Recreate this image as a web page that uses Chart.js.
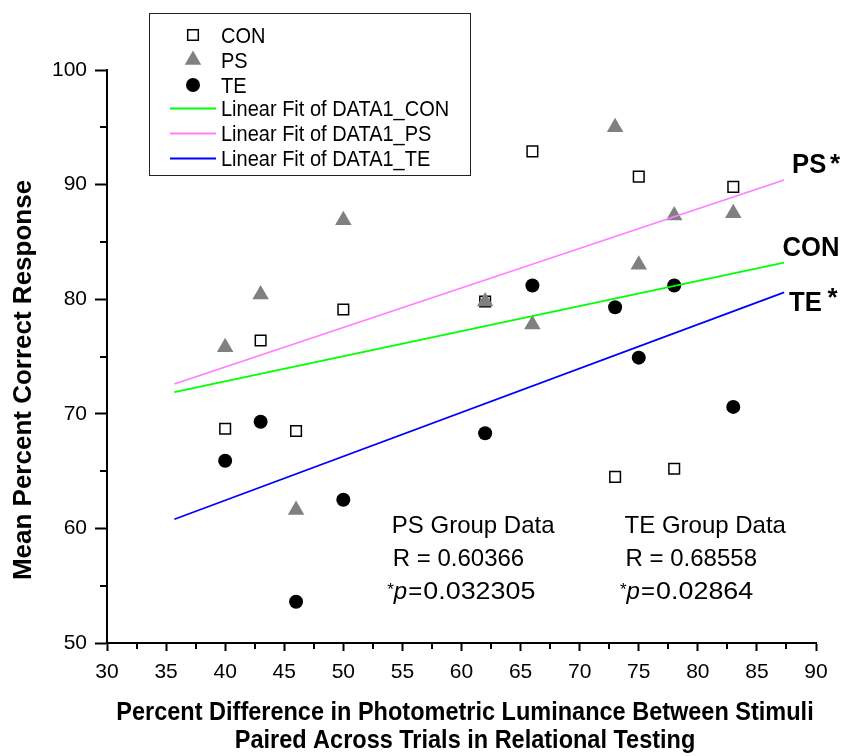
<!DOCTYPE html>
<html>
<head>
<meta charset="utf-8">
<script src="https://cdn.jsdelivr.net/npm/chart.js@4/dist/chart.umd.min.js"></script>
<style>
  html, body { margin: 0; padding: 0; background: #ffffff; }
  #wrap { width: 843px; height: 756px; position: relative; }
</style>
</head>
<body>
<div id="wrap"><canvas id="chart" width="843" height="756"></canvas></div>
<script>
// Percent luminance difference of each stimulus pair
const luminanceDiff = [40, 43, 46, 50, 62, 66, 73, 75, 78, 83];

// Mean percent correct response per group
const conScores = [68.7, 76.4, 68.5, 79.1, 79.8, 92.9, 64.5, 90.7, 65.2, 89.8];
const psScores  = [75.8, 80.4, 61.6, 86.9, 79.8, 77.8, 95.0, 83.0, 87.3, 87.5];
const teScores  = [65.9, 69.3, 53.6, 62.5, 68.3, 81.2, 79.3, 74.9, 81.2, 70.6];

// Linear fit lines: x extent and fitted y at each end
const fitRange = [35.7, 87.3];
const conFit = [71.9, 83.2];
const psFit  = [72.6, 90.4];
const teFit  = [60.8, 80.6];

// Axis ticks
const xTickValues = [30, 35, 40, 45, 50, 55, 60, 65, 70, 75, 80, 85, 90];
const yTickValues = [50, 60, 70, 80, 90, 100];

// Statistics text
const psStats = { title: 'PS Group Data', r: 'R = 0.60366', p: '0.032305' };
const teStats = { title: 'TE Group Data', r: 'R = 0.68558', p: '0.02864' };

const FONT = '"Liberation Sans", Arial, Helvetica, sans-serif';

const points = ys => luminanceDiff.map((x, i) => ({ x: x, y: ys[i] }));
const fitLine = ys => fitRange.map((x, i) => ({ x: x, y: ys[i] }));

function text(ctx, s, x, y, font, o) {
  o = o || {};
  ctx.save();
  ctx.font = font;
  ctx.fillStyle = o.color || '#000';
  ctx.textAlign = o.align || 'left';
  ctx.textBaseline = o.baseline || 'alphabetic';
  ctx.translate(x, y);
  if (o.rotate) ctx.rotate(o.rotate);
  if (o.sx) ctx.scale(o.sx, 1);
  ctx.fillText(s, 0, 0);
  const w = ctx.measureText(s).width * (o.sx || 1);
  ctx.restore();
  return w;
}

// Short minor ticks halfway between the labelled ones
const minorTicks = {
  id: 'minorTicks',
  afterDraw(chart) {
    const ctx = chart.ctx, xs = chart.scales.x, ys = chart.scales.y;
    const a = chart.chartArea;
    ctx.save();
    ctx.strokeStyle = '#000';
    ctx.lineWidth = 2;
    ctx.beginPath();
    for (let i = 0; i < xTickValues.length - 1; i++) {
      const px = Math.round(xs.getPixelForValue((xTickValues[i] + xTickValues[i + 1]) / 2));
      ctx.moveTo(px, a.bottom);
      ctx.lineTo(px, a.bottom + 6);
    }
    for (let i = 0; i < yTickValues.length - 1; i++) {
      const py = Math.round(ys.getPixelForValue((yTickValues[i] + yTickValues[i + 1]) / 2));
      ctx.moveTo(a.left, py);
      ctx.lineTo(a.left - 7, py);
    }
    ctx.stroke();
    ctx.restore();
  }
};

// Axis titles, legend box, group labels and statistics
const annotations = {
  id: 'annotations',
  afterDraw(chart) {
    const ctx = chart.ctx, xs = chart.scales.x, ys = chart.scales.y;
    const ds = chart.data.datasets;

    // axis titles
    text(ctx, 'Mean Percent Correct Response', 31, 380, 'bold 26px ' + FONT,
      { align: 'center', rotate: -Math.PI / 2 });
    text(ctx, 'Percent Difference in Photometric Luminance Between Stimuli', 465, 720,
      'bold 25px ' + FONT, { align: 'center', sx: 0.94 });
    text(ctx, 'Paired Across Trials in Relational Testing', 465, 748,
      'bold 25px ' + FONT, { align: 'center', sx: 0.94 });

    // legend
    ctx.save();
    ctx.strokeStyle = '#222';
    ctx.lineWidth = 1;
    ctx.strokeRect(149.5, 13.5, 321, 162);
    ctx.restore();
    const rows = [35, 60, 85, 108.5, 133.5, 158.5];
    ds.forEach((d, r) => {
      const y = rows[r];
      if (d.showLine) {
        ctx.save();
        ctx.strokeStyle = d.borderColor;
        ctx.lineWidth = d.borderWidth;
        ctx.beginPath();
        ctx.moveTo(170, y);
        ctx.lineTo(216, y);
        ctx.stroke();
        ctx.restore();
      } else {
        ctx.save();
        ctx.fillStyle = d.backgroundColor;
        ctx.strokeStyle = d.borderColor;
        ctx.lineWidth = d.borderWidth;
        Chart.helpers.drawPoint(ctx, {
          pointStyle: d.pointStyle, radius: d.pointRadius, borderWidth: d.borderWidth, rotation: 0
        }, 193, y);
        ctx.restore();
      }
      text(ctx, d.label, 221, y + 7.5, '21.5px ' + FONT, { sx: 0.93 });
    });

    // group labels at the right end of each fit line
    const xEnd = xs.getPixelForValue(fitRange[1]);
    const bold = 'bold 27px ' + FONT;
    const star = 'bold 26px ' + FONT;
    text(ctx, 'PS', xEnd + 8, ys.getPixelForValue(psFit[1]) - 7, bold, { sx: 0.95 });
    text(ctx, '*', xEnd + 51, ys.getPixelForValue(psFit[1]) - 8.5, star, { align: 'center' });
    text(ctx, 'CON', xEnd - 1.5, ys.getPixelForValue(conFit[1]) - 6.5, bold, { sx: 0.95 });
    text(ctx, 'TE', xEnd + 5, ys.getPixelForValue(teFit[1]) + 19, bold, { sx: 0.95 });
    text(ctx, '*', xEnd + 48.5, ys.getPixelForValue(teFit[1]) + 14, star, { align: 'center' });

    // correlation statistics
    const stat = (s, left) => {
      const f = '24px ' + FONT;
      text(ctx, s.title, left, 533, f);
      text(ctx, s.r, left + 1, 566, f);
      const py = 598.5;
      text(ctx, '*', left - 4.5, py - 4, '17px ' + FONT);
      text(ctx, 'p', left + 2, py, 'italic 24px ' + FONT);
      text(ctx, '=', left + 16.5, py, f);
      text(ctx, s.p, left + 31.5, py, f, { sx: 1.12 });
    };
    stat(psStats, xs.getPixelForValue(54.1));
    stat(teStats, xs.getPixelForValue(73.8));
  }
};

new Chart(document.getElementById('chart'), {
  type: 'scatter',
  data: {
    datasets: [
      { label: 'CON', data: points(conScores), pointStyle: 'rect', pointRadius: 7.5,
        backgroundColor: '#ffffff', borderColor: '#000000', borderWidth: 1.5, order: 3 },
      { label: 'PS', data: points(psScores), pointStyle: 'triangle', pointRadius: 9.5,
        backgroundColor: '#808080', borderColor: '#808080', borderWidth: 0, order: 2 },
      { label: 'TE', data: points(teScores), pointStyle: 'circle', pointRadius: 7,
        backgroundColor: '#000000', borderColor: '#000000', borderWidth: 0, order: 1 },
      { label: 'Linear Fit of DATA1_CON', data: fitLine(conFit), showLine: true, pointRadius: 0,
        borderColor: '#00ff00', borderWidth: 1.8, order: 0 },
      { label: 'Linear Fit of DATA1_PS', data: fitLine(psFit), showLine: true, pointRadius: 0,
        borderColor: '#ff80ff', borderWidth: 1.8, order: 0 },
      { label: 'Linear Fit of DATA1_TE', data: fitLine(teFit), showLine: true, pointRadius: 0,
        borderColor: '#0000ff', borderWidth: 1.8, order: 0 }
    ]
  },
  options: {
    responsive: false,
    animation: false,
    devicePixelRatio: 1,
    events: [],
    layout: { padding: { top: 70, right: 27, bottom: 0, left: 0 } },
    plugins: { legend: { display: false }, tooltip: { enabled: false } },
    scales: {
      x: {
        type: 'linear', min: 30, max: 90,
        afterBuildTicks: s => { s.ticks = xTickValues.map(v => ({ value: v })); },
        afterFit: s => { s.height = 113; },
        grid: { display: true, drawOnChartArea: false, drawTicks: true, tickLength: 8,
                tickWidth: 2, tickColor: '#000' },
        border: { display: true, color: '#000', width: 2 },
        ticks: { color: '#000', font: { family: FONT, size: 21 }, padding: 9,
                 maxRotation: 0, autoSkip: false }
      },
      y: {
        type: 'linear', min: 50, max: 100,
        afterBuildTicks: s => { s.ticks = yTickValues.map(v => ({ value: v })); },
        afterFit: s => { s.width = 107; },
        grid: { display: true, drawOnChartArea: false, drawTicks: true, tickLength: 12,
                tickWidth: 2, tickColor: '#000' },
        border: { display: true, color: '#000', width: 2 },
        ticks: { color: '#000', font: { family: FONT, size: 21 }, padding: 8, autoSkip: false }
      }
    }
  },
  plugins: [minorTicks, annotations]
});
</script>
</body>
</html>
